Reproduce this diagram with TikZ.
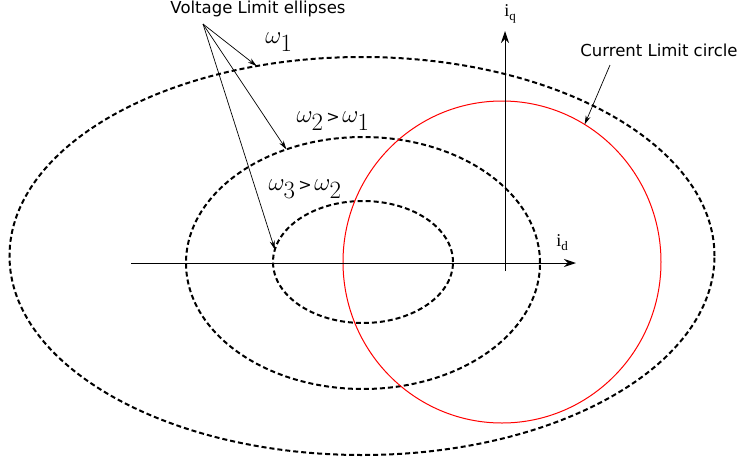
\documentclass[tikz,border=0pt]{standalone}
\usepackage[no-math]{fontspec}
\newfontfamily\dejavu{DejaVu Sans}
\newfontfamily\libserif{Liberation Serif}
\usetikzlibrary{shapes.geometric,arrows.meta}
\tikzset{
  vlim/.style={ellipse,draw,dash pattern=on 5pt off 3pt,line width=2pt,inner sep=0pt,outer sep=0pt},
  clim/.style={ellipse,draw=red,line width=1pt,inner sep=0pt,outer sep=0pt},
  axis/.style={line width=1pt,-{Stealth[length=12pt,width=8pt]}},
  lbl/.style={-{Stealth[length=9pt,width=5pt]},line width=0.7pt},
  sanslbl/.style={font=\dejavu\fontsize{16.5}{18}\selectfont,inner sep=0pt},
  omlbl/.style={font=\fontsize{34}{36}\selectfont,inner sep=0pt},
  axlbl/.style={font=\libserif\fontsize{18}{18}\selectfont,inner sep=0pt}
}
\newcommand{\gtsym}{{\dejavu\fontsize{16}{16}\selectfont\,>\,}}
\begin{document}
\begin{tikzpicture}[x=1pt,y=-1pt]
\useasboundingbox (0,0) rectangle (745,464);
% voltage limit ellipses
\node[vlim,minimum width=705pt,minimum height=398pt] (outer) at (362,256) {};
\node[vlim,minimum width=354pt,minimum height=252pt] (middle) at (363,263) {};
\node[vlim,minimum width=180pt,minimum height=122pt] (inner) at (363,262) {};
% current limit circle
\node[clim,minimum width=318pt,minimum height=322pt] (circ) at (502,262) {};
% axes
\coordinate (dl) at (131,263);
\coordinate (dr) at (576,263);
\coordinate (qb) at (505,271);
\coordinate (qt) at (505,31);
\draw[axis] (dl) -- (dr);
\draw[axis] (qb) -- (qt);
\node[axlbl] (iq) at (510,14) {i\raisebox{-4pt}{\fontsize{13}{13}\selectfont q}};
\node[axlbl] (id) at (562,243) {i\raisebox{-4pt}{\fontsize{13}{13}\selectfont d}};
% labels
\node[sanslbl] (vl) at (258,9) {Voltage Limit ellipses};
\coordinate (vs) at (203,24);
\draw[lbl] (vs) -- (outer.119.6);
\draw[lbl] (vs) -- (middle.124.8);
\draw[lbl] (vs) -- (inner.172.5);
\node[omlbl] (w1) at (279,42) {$\omega_1$};
\node[omlbl] (w2) at (333,121) {$\omega_2$\gtsym$\omega_1$};
\node[omlbl] (w3) at (305,189) {$\omega_3$\gtsym$\omega_2$};
\node[sanslbl] (cl) at (659,50) {Current Limit circle};
\coordinate (cs) at (610,65);
\draw[lbl] (cs) -- (circ.59.5);
\end{tikzpicture}
\end{document}
